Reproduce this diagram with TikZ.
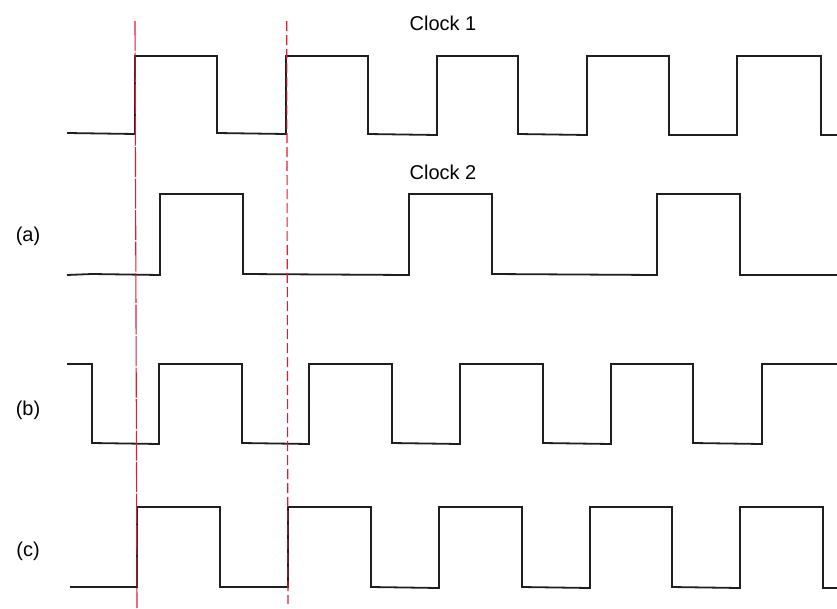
\documentclass[tikz,border=0pt]{standalone}
\usepackage{fontspec}
\setmainfont{Liberation Sans}
\definecolor{guide}{RGB}{222,28,52}
\begin{document}
\begin{tikzpicture}[x=1pt,y=-1pt,
  wave/.style={line width=1.8pt,line join=miter,black!88},
  guideline/.style={guide,line width=1.1pt},
  lbl/.style={font=\fontsize{20}{24}\selectfont,inner sep=0pt}]
\useasboundingbox (0,0) rectangle (837,608);
% labels
\node[lbl] (c1) at (443,23) {Clock 1};
\node[lbl] (c2) at (443,172) {Clock 2};
\node[lbl] (la) at (28,236) {(a)};
\node[lbl] (lb) at (28,410) {(b)};
\node[lbl] (lc) at (28,551) {(c)};
% Clock 1
\draw[wave] (67,133) -- (135,134) -- (135,56) -- (217,56) -- (217,133) -- (286,134) -- (286,56) -- (368,56) -- (368,134) -- (437,135) -- (437,56) -- (518,56) -- (518,134) -- (587,135) -- (587,56) -- (669,56) -- (669,135) -- (737,135) -- (737,56) -- (821,56) -- (821,135) -- (837,135);
% (a) Clock 2
\draw[wave] (67,275) -- (92,274) -- (160,275) -- (160,194) -- (243,194) -- (243,274) -- (409,275) -- (409,194) -- (492,194) -- (492,274) -- (657,275) -- (657,194) -- (740,194) -- (740,275) -- (837,275);
% (b)
\draw[wave] (67,364) -- (92,364) -- (92,443) -- (159,444) -- (159,364) -- (242,364) -- (242,443) -- (309,444) -- (309,364) -- (392,364) -- (392,443) -- (460,444) -- (460,364) -- (543,364) -- (543,443) -- (611,444) -- (611,364) -- (693,364) -- (693,443) -- (762,444) -- (762,364) -- (837,364);
% (c)
\draw[wave] (70,587) -- (137,587) -- (137,507) -- (220,507) -- (220,587) -- (288,587) -- (288,507) -- (371,507) -- (371,587) -- (439,588) -- (439,507) -- (522,507) -- (522,587) -- (590,588) -- (590,507) -- (672,507) -- (672,587) -- (740,588) -- (740,507) -- (823,507) -- (823,588) -- (837,588);
% red guide lines
\coordinate (g1t) at (135,21);
\coordinate (g1b) at (137,608);
\coordinate (g2t) at (286.7,21);
\coordinate (g2b) at (288,604);
\draw[guideline,dash pattern=on 30pt off 1.5pt] (g1t) -- (g1b);
\draw[guideline,dash pattern=on 10pt off 4pt] (g2t) -- (g2b);
\end{tikzpicture}
\end{document}
